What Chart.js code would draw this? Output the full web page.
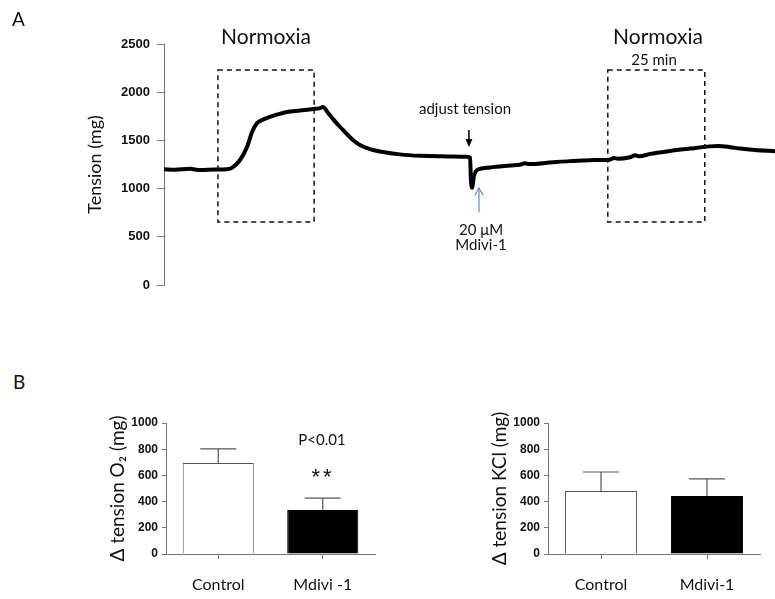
<!DOCTYPE html>
<html>
<head>
<meta charset="UTF-8">
<title>Tension trace and bar charts</title>
<script src="https://cdn.jsdelivr.net/npm/chart.js"></script>
<style>
body {
  margin: 0;
  background: #fff;
  width: 775px;
  height: 599px;
  overflow: hidden;
  position: relative;
  font-family: Lato, "Open Sans", sans-serif;
  color: #111;
}
canvas, .lbl, .letter {
  position: absolute;
}
.lbl {
  white-space: nowrap;
  line-height: 1;
  transform: translate(-50%, -50%);
}
.letter {
  font-size: 19px;
  line-height: 1;
}
</style>
</head>
<body>

<canvas id="trace" width="775" height="300" style="left:0;top:0"></canvas>
<canvas id="barO2" width="390" height="200" style="left:0;top:400px"></canvas>
<canvas id="barKcl" width="385" height="200" style="left:390px;top:400px"></canvas>

<div class="letter" style="left:12px;top:9px">A</div>
<div class="lbl" style="left:266px;top:35px;font-size:21px">Normoxia</div>
<div class="lbl" style="left:658px;top:35px;font-size:21px">Normoxia</div>
<div class="lbl" style="left:654px;top:59px;font-size:15px">25 min</div>
<div class="lbl" style="left:465px;top:108px;font-size:15px">adjust tension</div>
<div class="lbl" style="left:481px;top:229px;font-size:15px">20 μM</div>
<div class="lbl" style="left:481px;top:244px;font-size:15px">Mdivi-1</div>

<div class="letter" style="left:13px;top:372px">B</div>
<div class="lbl" style="left:322px;top:439px;font-size:15px">P&lt;0.01</div>
<div class="lbl" style="left:323px;top:477px;font-size:22px;letter-spacing:3px;font-family:'Liberation Sans',sans-serif">**</div>

<script>
// tension trace (time in min, tension in mg)
const traceMin = [0, 2.8, 6.7, 9.3, 13.1, 16.0, 17.5, 19.6, 21.4, 22.7, 24.0, 25.5, 27.3, 29.5, 31.7,
  35.0, 38.4, 40.0, 41.0, 42.3, 43.8, 45.4, 48.7, 50.5, 53.1, 56.4, 60.8,
  66.0, 71.1, 78.1, 78.9, 79.1, 79.4, 79.9, 80.4, 81.4, 84.0, 89.2, 92.0, 93.0, 94.3, 99.5, 104.6,
  109.8, 114.9, 116.0, 117.0, 120.1, 121.5, 122.5, 125.3, 130.4, 135.6, 140.7, 142.8, 146.0,
  148.5, 152.3, 157.5];
const traceMg = [1200, 1195, 1205, 1192, 1197, 1200, 1215, 1297, 1431, 1587, 1680, 1715, 1743, 1772, 1795,
  1810, 1826, 1832, 1846, 1784, 1710, 1639, 1504, 1452, 1410, 1380, 1355,
  1340, 1335, 1330, 1320, 1100, 1010, 1130, 1180, 1205, 1220, 1240, 1250, 1262, 1255, 1270, 1285,
  1295, 1300, 1318, 1310, 1325, 1345, 1335, 1360, 1390, 1415, 1438, 1442, 1430,
  1415, 1400, 1388];

// dashed normoxia windows: [t0, t1, mg low, mg high]
const normoxiaBoxes = [[13.9, 38.7, 654, 2230], [114.4, 139.4, 654, 2230]];

// bar charts
const groupsO2 = ['Control', 'Mdivi -1'];
const o2Mean = [695, 336];
const o2Sem = [107, 91];
const groupsKcl = ['Control', 'Mdivi-1'];
const kclMean = [481, 443];
const kclSem = [145, 130];

const axisGrey = '#777';
const tickFont = { family: '"Liberation Sans", Arial, sans-serif', weight: 'bold' };

const decor = {
  id: 'decor',
  afterDatasetsDraw(chart, args, opts) {
    const ctx = chart.ctx;
    const xs = chart.scales.x, ys = chart.scales.y;

    (opts.boxes || []).forEach(b => {
      const x0 = xs.getPixelForValue(b[0]), x1 = xs.getPixelForValue(b[1]);
      const yLo = ys.getPixelForValue(b[2]), yHi = ys.getPixelForValue(b[3]);
      ctx.save();
      ctx.setLineDash([5, 4]);
      ctx.lineWidth = 1.5;
      ctx.strokeStyle = '#111';
      ctx.strokeRect(x0, yHi, x1 - x0, yLo - yHi);
      ctx.restore();
    });

    (opts.arrows || []).forEach(a => {
      const x = xs.getPixelForValue(a.x);
      const y0 = ys.getPixelForValue(a.from), y1 = ys.getPixelForValue(a.to);
      const dir = y1 > y0 ? 1 : -1;
      ctx.save();
      ctx.strokeStyle = a.color;
      ctx.fillStyle = a.color;
      ctx.lineWidth = a.width;
      ctx.beginPath();
      ctx.moveTo(x, y0);
      ctx.lineTo(x, y1 - dir * (a.filled ? 5 : 0));
      ctx.stroke();
      ctx.beginPath();
      if (a.filled) {
        ctx.moveTo(x, y1);
        ctx.lineTo(x - 3.5, y1 - dir * 8);
        ctx.lineTo(x + 3.5, y1 - dir * 8);
        ctx.closePath();
        ctx.fill();
      } else {
        ctx.moveTo(x - 4, y1 - dir * 7);
        ctx.lineTo(x, y1);
        ctx.lineTo(x + 4, y1 - dir * 7);
        ctx.stroke();
      }
      ctx.restore();
    });

    if (opts.sem) {
      const meta = chart.getDatasetMeta(0);
      const vals = chart.data.datasets[0].data;
      ctx.save();
      ctx.strokeStyle = '#555';
      ctx.lineWidth = 1.2;
      meta.data.forEach((el, i) => {
        const top = ys.getPixelForValue(vals[i] + opts.sem[i]);
        ctx.beginPath();
        ctx.moveTo(el.x, el.y);
        ctx.lineTo(el.x, top);
        ctx.moveTo(el.x - 18, top);
        ctx.lineTo(el.x + 18, top);
        ctx.stroke();
      });
      ctx.restore();
    }
  }
};
Chart.register(decor);

new Chart(document.getElementById('trace'), {
  type: 'line',
  data: {
    datasets: [{
      data: traceMin.map((t, i) => ({ x: t, y: traceMg[i] })),
      borderColor: '#000',
      borderWidth: 4,
      pointRadius: 0,
      borderJoinStyle: 'round',
      borderCapStyle: 'round',
      cubicInterpolationMode: 'monotone'
    }]
  },
  options: {
    responsive: false,
    animation: false,
    layout: { padding: { top: 44, bottom: 15, left: 0, right: 0 } },
    plugins: {
      legend: { display: false },
      tooltip: { enabled: false },
      decor: {
        boxes: normoxiaBoxes,
        arrows: [
          { x: 78.6, from: 1608, to: 1432, color: '#000', width: 1.5, filled: true },
          { x: 81.2, from: 757, to: 1006, color: '#5b8bd0', width: 1.2, filled: false }
        ]
      }
    },
    scales: {
      x: { type: 'linear', display: false, min: 0, max: 157.5 },
      y: {
        min: 0, max: 2500,
        ticks: {
          stepSize: 500, padding: 7, color: '#111', font: { ...tickFont, size: 13 },
          callback: v => String(v)
        },
        grid: { drawOnChartArea: false, tickLength: 7, color: axisGrey },
        border: { color: axisGrey, width: 1 },
        title: {
          display: true, text: 'Tension (mg)', color: '#111',
          font: { family: 'Lato, sans-serif', size: 18 },
          padding: { top: 84, bottom: 0 }
        },
        afterFit(scale) { scale.width = 164; }
      }
    }
  }
});

function barChart(id, labels, means, sems, title, axisWidth, titlePad) {
  new Chart(document.getElementById(id), {
    type: 'bar',
    data: {
      labels: labels,
      datasets: [{
        data: means,
        backgroundColor: ['#fff', '#000'],
        borderColor: ['#555', '#000'],
        borderWidth: 1,
        categoryPercentage: 1,
        barPercentage: 0.68
      }]
    },
    options: {
      responsive: false,
      animation: false,
      layout: { padding: { top: 23, right: 15, left: 0, bottom: 0 } },
      plugins: {
        legend: { display: false },
        tooltip: { enabled: false },
        decor: { sem: sems }
      },
      scales: {
        x: {
          ticks: { padding: 16, color: '#111', font: { family: 'Lato, sans-serif', size: 16 } },
          grid: { drawOnChartArea: false, offset: false, tickLength: 5, color: axisGrey },
          border: { color: axisGrey, width: 1 },
          afterFit(scale) { scale.height = 46; }
        },
        y: {
          min: 0, max: 1000,
          ticks: {
            stepSize: 200, padding: 4, color: '#111', font: { ...tickFont, size: 12 },
            callback: v => String(v)
          },
          grid: { drawOnChartArea: false, tickLength: 4, color: axisGrey },
          border: { color: axisGrey, width: 1 },
          title: {
            display: true, text: title, color: '#111',
            font: { family: 'Lato, sans-serif', size: 19 },
            padding: { top: titlePad, bottom: 0 }
          },
          afterFit(scale) { scale.width = axisWidth; }
        }
      }
    }
  });
}

barChart('barO2', groupsO2, o2Mean, o2Sem, 'Δ tension O₂ (mg)', 166, 106);
barChart('barKcl', groupsKcl, kclMean, kclSem, 'Δ tension KCl (mg)', 158, 98);
</script>
</body>
</html>
